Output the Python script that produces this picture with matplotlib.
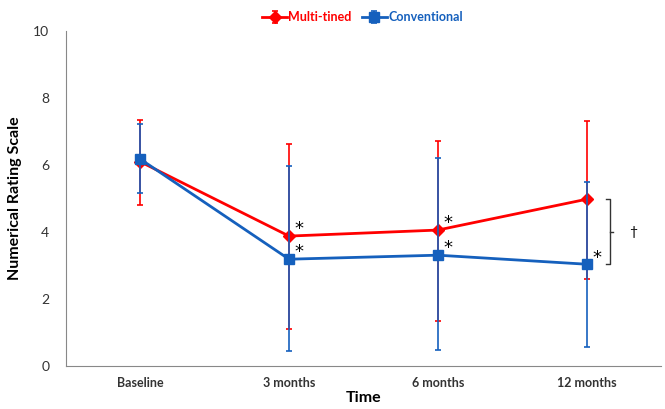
import numpy as np
import matplotlib.pyplot as plt

plt.rcParams['font.family'] = ['Lato', 'DejaVu Sans']

timepoints = ['Baseline', '3 months', '6 months', '12 months']
multi_tined = [6.1, 3.88, 4.06, 4.98]
multi_lo = [4.8, 1.1, 1.34, 2.6]
multi_hi = [7.35, 6.63, 6.72, 7.31]
conventional = [6.18, 3.19, 3.31, 3.04]
conv_lo = [5.16, 0.45, 0.47, 0.56]
conv_hi = [7.22, 5.97, 6.2, 5.5]

red = '#FF0000'
blue = '#1560BD'

x = np.arange(len(timepoints)) + 0.5

fig = plt.figure(figsize=(6.65, 4.09), dpi=100)
ax = fig.add_axes([0.099, 0.105, 0.895, 0.819])

mt = np.array(multi_tined)
cv = np.array(conventional)
ax.errorbar(x, mt, yerr=[mt - np.array(multi_lo), np.array(multi_hi) - mt],
            color=red, marker='D', markersize=6, lw=2, elinewidth=1.2,
            capsize=2.5, capthick=1.2, label='Multi-tined', zorder=3)
ax.errorbar(x, cv, yerr=[cv - np.array(conv_lo), np.array(conv_hi) - cv],
            color=blue, marker='s', markersize=7, lw=2, elinewidth=1.2,
            capsize=2.5, capthick=1.2, label='Conventional', zorder=4)

# significance marks
star = dict(fontsize=13, ha='center', va='center', family='DejaVu Sans')
for i in [1, 2]:
    ax.text(x[i] + 0.07, mt[i] + 0.22, '*', **star)
    ax.text(x[i] + 0.07, cv[i] + 0.22, '*', **star)
ax.text(x[3] + 0.07, cv[3] + 0.2, '*', **star)

# bracket at 12 months
bx = x[3] + 0.13
ax.plot([bx, bx + 0.03, bx + 0.03, bx], [mt[3], mt[3], cv[3], cv[3]],
        color='#333333', lw=1)
ax.plot([bx + 0.03, bx + 0.045], [(mt[3] + cv[3]) / 2] * 2, color='#333333', lw=1)
ax.text(bx + 0.18, (mt[3] + cv[3]) / 2, '\u2020', fontsize=10, ha='center', va='center')

ax.set_xlim(0, 4)
ax.set_ylim(0, 10)
ax.set_xticks(x)
ax.set_xticklabels(timepoints, fontsize=9, fontweight='bold')
ax.set_yticks(np.arange(0, 11, 2))
ax.tick_params(axis='both', length=0, colors='#333333')
ax.tick_params(axis='y', labelsize=10, pad=12)
ax.tick_params(axis='x', pad=8)
for s in ['top', 'right']:
    ax.spines[s].set_visible(False)
for s in ['left', 'bottom']:
    ax.spines[s].set_color('#888888')
ax.set_xlabel('Time', fontsize=11.5, fontweight='bold', labelpad=1)
ax.set_ylabel('Numerical Rating Scale', fontsize=11.5, fontweight='bold', labelpad=8)

leg = fig.legend(loc='upper center', bbox_to_anchor=(0.545, 1.0), ncol=2, frameon=False,
                 handlelength=2, handletextpad=0.1, columnspacing=0.8,
                 prop={'weight': 'bold', 'size': 9})
for t, c in zip(leg.get_texts(), [red, blue]):
    t.set_color(c)

fig.savefig('out.png', dpi=100)
